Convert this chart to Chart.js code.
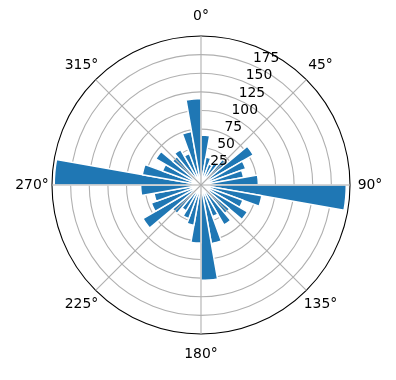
<!DOCTYPE html>
<html>
<head>
<meta charset="utf-8">
<script src="https://cdn.jsdelivr.net/npm/chart.js@4"></script>
<style>
  html, body { margin: 0; padding: 0; background: #fff; }
  #wrap { width: 396px; height: 380px; position: relative; }
</style>
</head>
<body>
<div id="wrap"><canvas id="rose"></canvas></div>
<script>
// 36 direction bins of 10 degrees, clockwise from north
const binStarts = [0, 10, 20, 30, 40, 50, 60, 70, 80, 90, 100, 110, 120, 130, 140, 150, 160, 170,
                   180, 190, 200, 210, 220, 230, 240, 250, 260, 270, 280, 290, 300, 310, 320, 330, 340, 350];
const counts = [67, 38, 30, 35, 45, 81, 64, 58, 77, 195, 83, 60, 72, 50, 62, 45, 80, 128,
                78, 55, 48, 40, 50, 90, 71, 64, 81, 197, 80, 55, 70, 50, 55, 45, 73, 116];
const rTicks = [25, 50, 75, 100, 125, 150, 175];
const thetaTicks = [0, 45, 90, 135, 180, 225, 270, 315];

const FONT = '13.9px "DejaVu Sans"';

// spokes and text labels like matplotlib's polar axes
const polarDecor = {
    id: 'polarDecor',
    afterDatasetsDraw(chart) {
        const s = chart.scales.r;
        const ctx = chart.ctx;
        ctx.save();
        ctx.strokeStyle = '#b0b0b0';
        ctx.lineWidth = 1.1;
        for (const t of thetaTicks) {
            const a = (t - 90) * Math.PI / 180;
            ctx.beginPath();
            ctx.moveTo(s.xCenter, s.yCenter);
            ctx.lineTo(s.xCenter + s.drawingArea * Math.cos(a), s.yCenter + s.drawingArea * Math.sin(a));
            ctx.stroke();
        }
        ctx.restore();
    },
    afterDraw(chart) {
        const s = chart.scales.r;
        const ctx = chart.ctx;
        ctx.save();
        ctx.fillStyle = '#000';
        ctx.font = FONT;
        // angle labels
        ctx.textAlign = 'center';
        ctx.textBaseline = 'middle';
        for (const t of thetaTicks) {
            const a = (t - 90) * Math.PI / 180;
            const d = s.drawingArea + 20;
            ctx.fillText(t + '°', s.xCenter + d * Math.cos(a), s.yCenter + d * Math.sin(a));
        }
        // radial labels at 22.5 deg
        ctx.textAlign = 'left';
        const a = (22.5 - 90) * Math.PI / 180;
        for (const v of rTicks) {
            const d = s.getDistanceFromCenterForValue(v);
            ctx.fillText(String(v), s.xCenter + d * Math.cos(a) + 2, s.yCenter + d * Math.sin(a) - 6);
        }
        ctx.restore();
    }
};

new Chart(document.getElementById('rose'), {
    type: 'polarArea',
    data: {
        labels: binStarts.map(b => b + '°'),
        datasets: [{
            data: counts,
            backgroundColor: '#1f77b4',
            borderColor: '#ffffff',
            borderWidth: 1.5
        }]
    },
    options: {
        responsive: true,
        maintainAspectRatio: false,
        animation: false,
        layout: { padding: { left: 52, top: 36, right: 46, bottom: 46 } },
        plugins: { legend: { display: false }, tooltip: { enabled: false } },
        scales: {
            r: {
                min: 0,
                max: 200,
                startAngle: 0,
                z: 1,
                ticks: { display: false, stepSize: 25 },
                grid: {
                    circular: true,
                    color: c => c.tick.value === 200 ? '#000000' : '#b0b0b0',
                    lineWidth: 1.1
                },
                angleLines: { display: false },
                pointLabels: { display: false }
            }
        }
    },
    plugins: [polarDecor]
});
</script>
</body>
</html>
